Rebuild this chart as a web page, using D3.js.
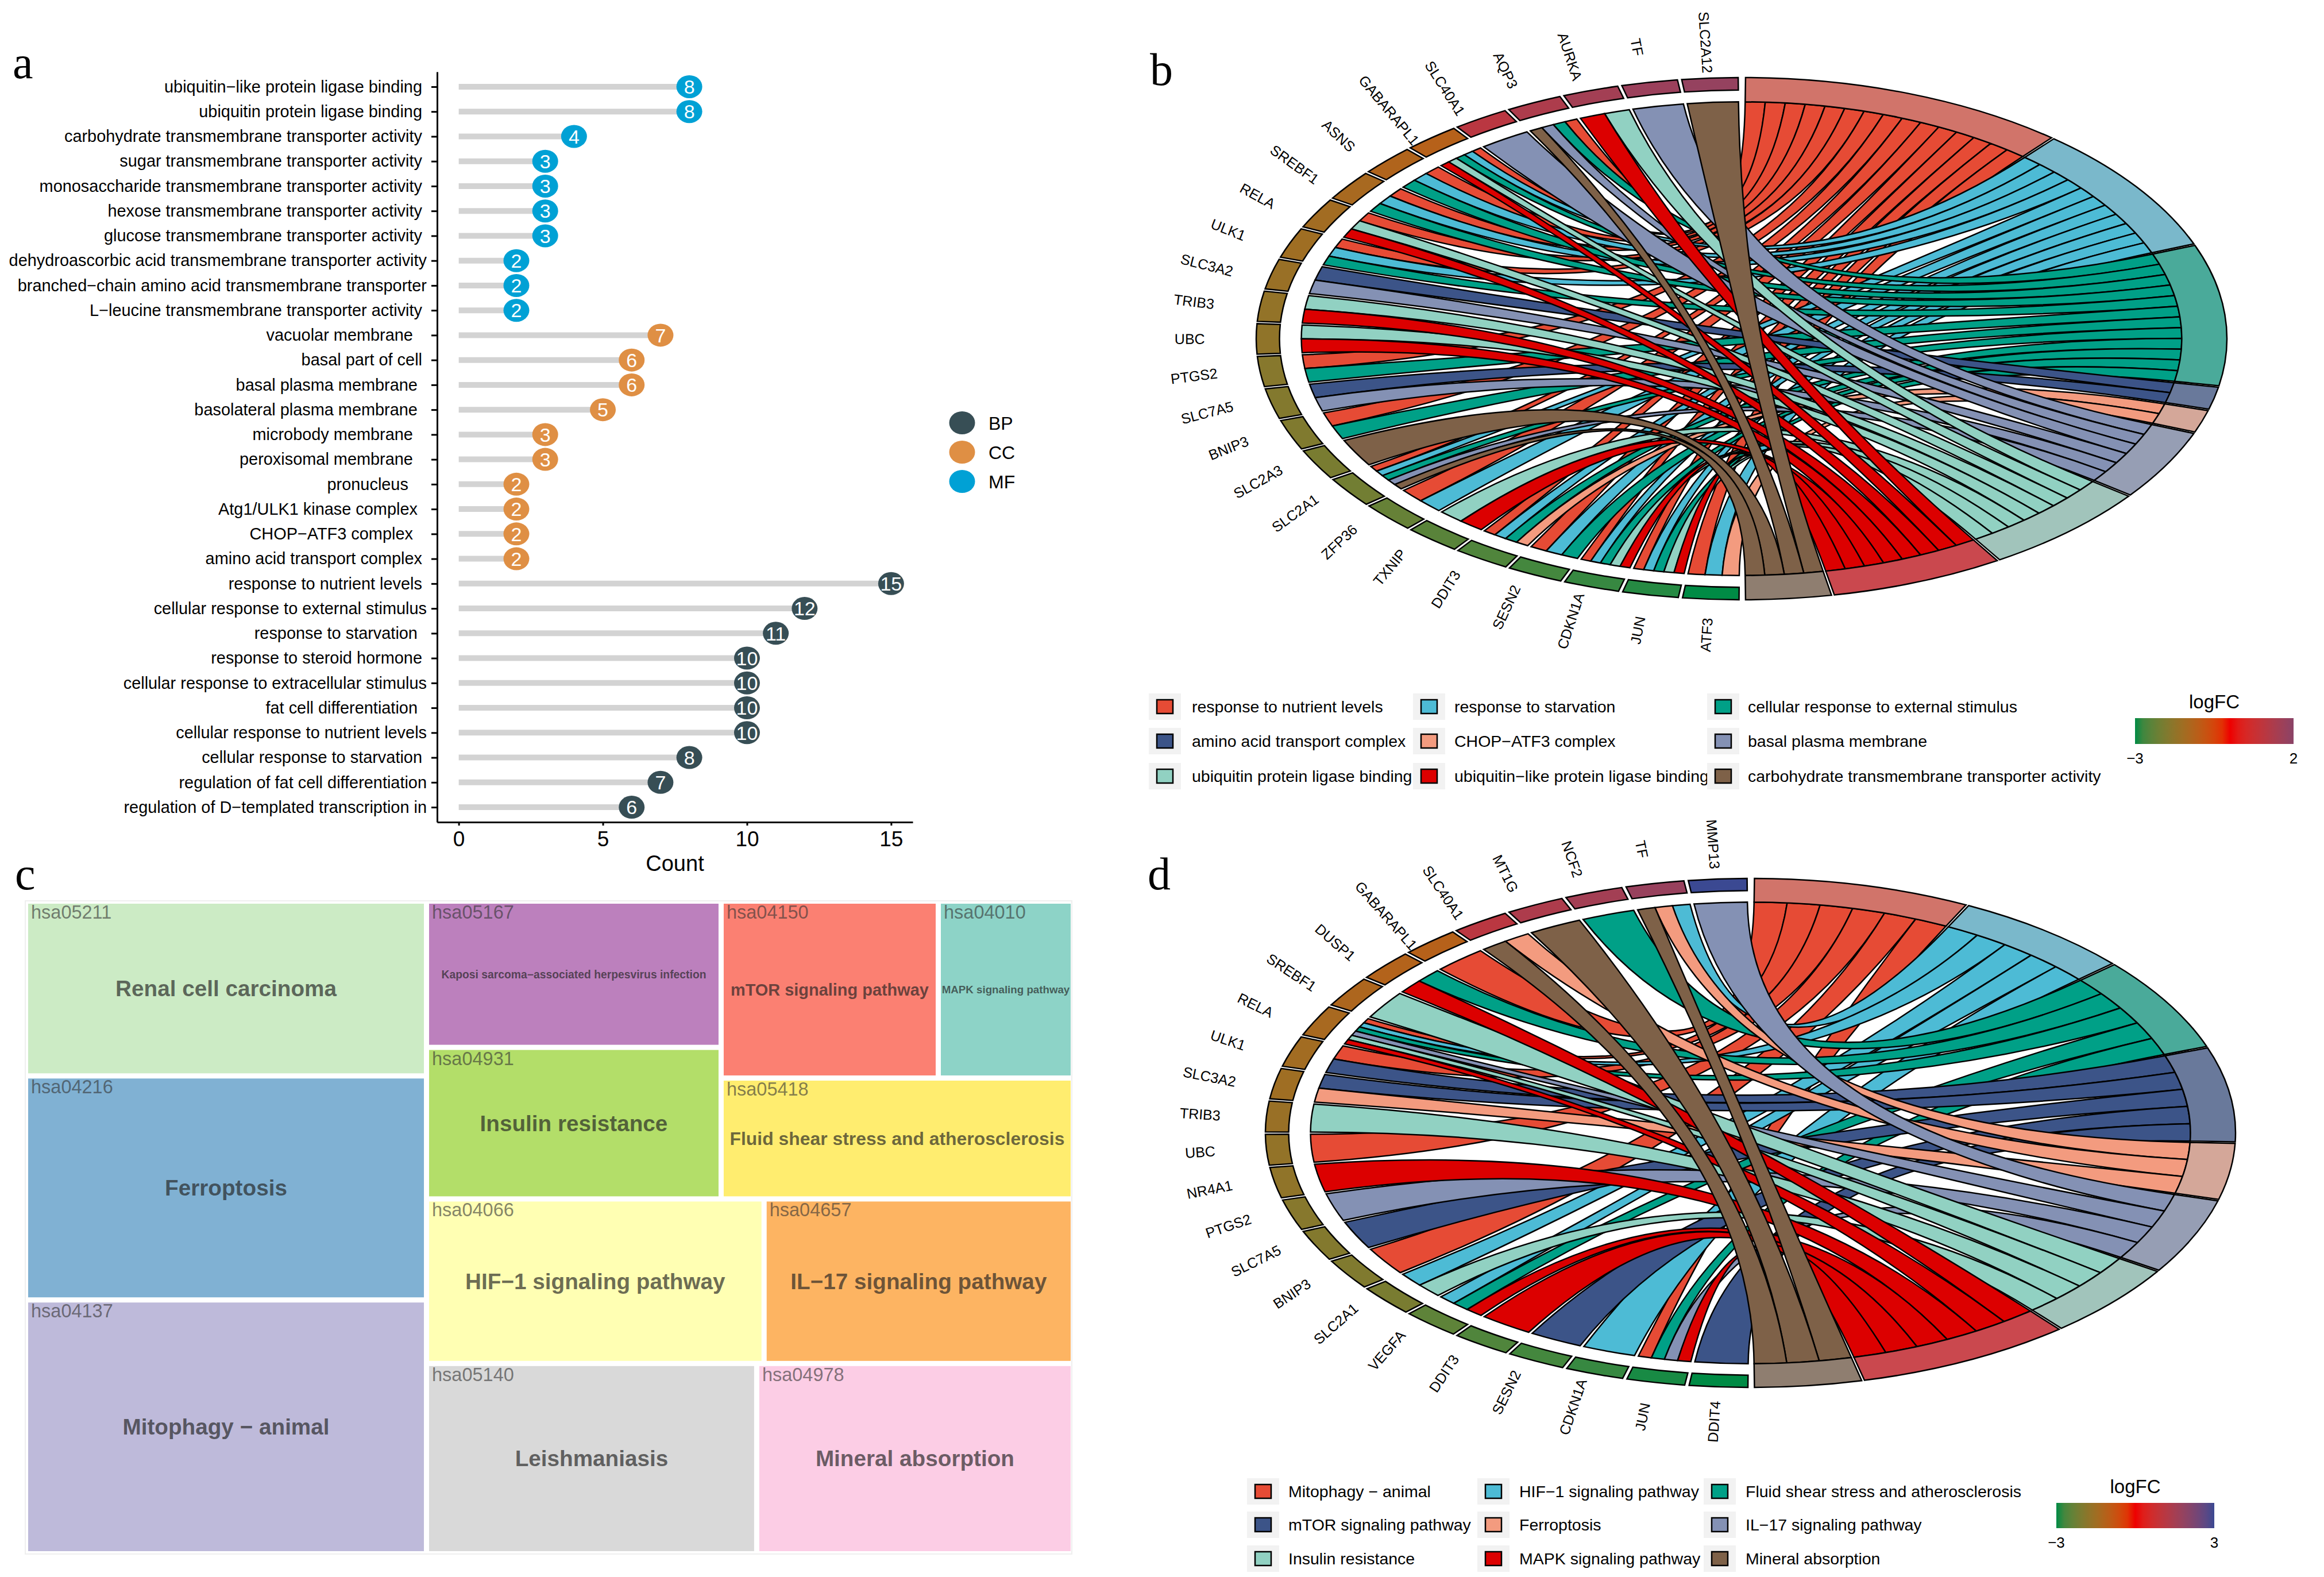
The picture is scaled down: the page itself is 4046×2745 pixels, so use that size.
<!DOCTYPE html>
<html>
<head>
<meta charset="utf-8">
<script src="https://cdn.jsdelivr.net/npm/d3@7"></script>
<style>
html,body{margin:0;padding:0;background:#fff}
svg{display:block}
text{font-family:"Liberation Sans",Arial,sans-serif;fill:#000}
.pl{font-family:"Liberation Serif",serif}
</style>
</head>
<body>
<svg id="chart" width="4046" height="2745" viewBox="0 0 4046 2745"></svg>
<script>
// ---------- Panel a ----------
const termLabels = [
 "ubiquitin−like protein ligase binding ","ubiquitin protein ligase binding ","carbohydrate transmembrane transporter activity ",
 "sugar transmembrane transporter activity ","monosaccharide transmembrane transporter activity ","hexose transmembrane transporter activity ",
 "glucose transmembrane transporter activity ","dehydroascorbic acid transmembrane transporter activity","branched−chain amino acid transmembrane transporter",
 "L−leucine transmembrane transporter activity ","vacuolar membrane   ","basal part of cell ","basal plasma membrane  ","basolateral plasma membrane  ",
 "microbody membrane   ","peroxisomal membrane   ","pronucleus    ","Atg1/ULK1 kinase complex  ","CHOP−ATF3 complex   ","amino acid transport complex ",
 "response to nutrient levels ","cellular response to external stimulus","response to starvation  ","response to steroid hormone ",
 "cellular response to extracellular stimulus","fat cell differentiation  ","cellular response to nutrient levels","cellular response to starvation ",
 "regulation of fat cell differentiation","regulation of D−templated transcription in"];
const termCounts = [8,8,4,3,3,3,3,2,2,2,7,6,6,5,3,3,2,2,2,2,15,12,11,10,10,10,10,8,7,6];
const termGroups = ["MF","MF","MF","MF","MF","MF","MF","MF","MF","MF","CC","CC","CC","CC","CC","CC","CC","CC","CC","CC","BP","BP","BP","BP","BP","BP","BP","BP","BP","BP"];
const groupNames = ["BP","CC","MF"];
const groupColors = ["#374E55","#DF8F44","#00A1D5"];
const countTicks = [0,5,10,15];

// ---------- Panel c ----------
const pathwayIds   = ["hsa05211","hsa04216","hsa04137","hsa05167","hsa04931","hsa04150","hsa04010","hsa05418","hsa04066","hsa04657","hsa05140","hsa04978"];
const pathwayNames = ["Renal cell carcinoma","Ferroptosis","Mitophagy − animal","Kaposi sarcoma−associated herpesvirus infection","Insulin resistance","mTOR signaling pathway","MAPK signaling pathway","Fluid shear stress and atherosclerosis","HIF−1 signaling pathway","IL−17 signaling pathway","Leishmaniasis","Mineral absorption"];
const pathwayValues= [13.5,17.3,19.6,8.3,8.6,7.4,4.6,8.2,10.7,9.8,12.1,11.6];
const pathwayColors= ["#CCEBC5","#80B1D3","#BEBADA","#BC80BD","#B3DE69","#FB8072","#8DD3C7","#FFED6F","#FFFFB3","#FDB462","#D9D9D9","#FCCDE5"];
const labelFitShare = {"Kaposi sarcoma−associated herpesvirus infection":0.915,"MAPK signaling pathway":0.985,"mTOR signaling pathway":0.935,"Fluid shear stress and atherosclerosis":0.965};

// ---------- Chord palettes ----------
const chordColors = ["#E64B35","#4DBBD5","#00A087","#3C5488","#F39B7F","#8491B4","#91D1C2","#DC0000","#7E6148"];
const ringColors  = ["#D1746A","#7AB8CB","#4AAA9A","#69799B","#D4A799","#969EB4","#A1C4BB","#CA484E","#8F7E70"];
const lfcStops    = ["#008B45","#EE0000","#3B4992"];

// ---------- Panel b (genes run clockwise from the bottom) ----------
const bTerms = ["response to nutrient levels","response to starvation","cellular response to external stimulus","amino acid transport complex","CHOP−ATF3 complex","basal plasma membrane","ubiquitin protein ligase binding","ubiquitin−like protein ligase binding","carbohydrate transmembrane transporter activity"];
const bGenes = ["ATF3","JUN","CDKN1A","SESN2","DDIT3","TXNIP","ZFP36","SLC2A1","SLC2A3","BNIP3","SLC7A5","PTGS2","UBC","TRIB3","SLC3A2","ULK1","RELA","SREBF1","ASNS","GABARAPL1","SLC40A1","AQP3","AURKA","TF","SLC2A12"];
const bLogFC = [-3,-2.9,-2.8,-2.7,-2.6,-2.5,-2.35,-2.2,-2.1,-2,-1.95,-1.9,-1.75,-1.7,-1.6,-1.5,-1.45,-1.35,-1.2,-1.1,1.1,1.35,1.55,1.7,1.8];
const bLinks = [[0,1,4],[0,1,2,6,7],[0,1,2,6,7],[0,1,2],[0,1,2,4],[6,7],[0,1],[0,1,2,5,8],[8],[0,2],[3,5],[0,2],[6,7],[6,7],[3,5],[0,1,2],[0,6,7],[0,1,2],[0,1,2],[0,1,2,6,7],[5],[0,2,5,8],[6,7],[5],[8]];

// ---------- Panel d ----------
const dTerms = ["Mitophagy − animal","HIF−1 signaling pathway","Fluid shear stress and atherosclerosis","mTOR signaling pathway","Ferroptosis","IL−17 signaling pathway","Insulin resistance","MAPK signaling pathway","Mineral absorption"];
const dGenes = ["DDIT4","JUN","CDKN1A","SESN2","DDIT3","VEGFA","SLC2A1","BNIP3","SLC7A5","PTGS2","NR4A1","UBC","TRIB3","SLC3A2","ULK1","RELA","SREBF1","DUSP1","GABARAPL1","SLC40A1","MT1G","NCF2","TF","MMP13"];
const dLogFC = [-3,-2.95,-2.8,-2.7,-2.6,-2.45,-2.1,-2,-1.95,-1.9,-1.75,-1.7,-1.6,-1.5,-1.45,-1.35,-1.25,-1.15,-1.1,1.1,1.35,1.55,1.75,3];
const dLinks = [[3],[0,2,5,7],[1],[3],[7],[1,2,7],[1,6],[0],[3],[5],[7],[0],[6],[3,4],[0,3],[0,1,2,5,6,7],[6],[2,7],[0],[4,8],[8],[2],[1,4,8],[5]];

const svg = d3.select("#chart");
svg.append("rect").attr("width",4046).attr("height",2745).attr("fill","#fff");

// panel letters
[["a",22,136],["b",2002,148],["c",26,1548],["d",1998,1548]].forEach(([t,x,y])=>{
  svg.append("text").attr("class","pl").attr("x",x).attr("y",y).attr("font-size",80).text(t);
});

// ---------- a: lollipop ----------
(function(){
  const g = svg.append("g").attr("class","panel-a");
  const x = d3.scaleLinear().domain([-0.75,15.75]).range([761,1589]);
  const y = d3.scalePoint().domain(termLabels).range([125,1431]).padding(0.6);
  const col = d3.scaleOrdinal(groupNames,groupColors);
  const rows = termLabels.map((l,i)=>({l,c:termCounts[i],g:termGroups[i]}));
  g.append("g").selectAll("line").data(rows).join("line")
    .attr("x1",x(0)).attr("x2",d=>x(d.c)).attr("y1",d=>y(d.l)).attr("y2",d=>y(d.l))
    .attr("stroke","#D3D3D3").attr("stroke-width",10);
  const ax = g.append("g").attr("transform","translate(0,1431)")
    .call(d3.axisBottom(x).tickValues(countTicks).tickSize(6).tickPadding(10).tickSizeOuter(0));
  ax.selectAll("text").attr("font-size",37).style("font-family","Liberation Sans");
  ax.selectAll("path,line").attr("stroke-width",3);
  const ay = g.append("g").attr("transform","translate(761,0)")
    .call(d3.axisLeft(y).tickSize(10).tickPadding(8).tickSizeOuter(0));
  ay.selectAll("text").attr("font-size",28.9).style("white-space","pre").style("font-family","Liberation Sans");
  ay.selectAll("path,line").attr("stroke-width",3);
  g.append("g").selectAll("ellipse").data(rows).join("ellipse")
    .attr("cx",d=>x(d.c)).attr("cy",d=>y(d.l)).attr("rx",22.5).attr("ry",20).attr("fill",d=>col(d.g));
  g.append("g").selectAll("text").data(rows).join("text")
    .attr("x",d=>x(d.c)).attr("y",d=>y(d.l)).attr("dy","0.36em").attr("text-anchor","middle")
    .attr("font-size",34).style("fill","#fff").text(d=>d.c);
  g.append("text").attr("x",1175).attr("y",1516).attr("text-anchor","middle").attr("font-size",38).text("Count");
  const ly = d3.scalePoint().domain(groupNames).range([736,838]);
  groupNames.forEach(n=>{
    g.append("ellipse").attr("cx",1675).attr("cy",ly(n)).attr("rx",22.5).attr("ry",20).attr("fill",col(n));
    g.append("text").attr("x",1721).attr("y",ly(n)).attr("dy","0.36em").attr("font-size",32).text(n);
  });
})();

// ---------- c: treemap ----------
(function(){
  const leaf = i=>({i,value:pathwayValues[i]});
  const tree = {dir:"dice",children:[
    {dir:"slice",children:[leaf(0),leaf(1),leaf(2)]},
    {dir:"slice",children:[
      {dir:"dice",children:[
        {dir:"slice",children:[leaf(3),leaf(4)]},
        {dir:"slice",children:[{dir:"dice",children:[leaf(5),leaf(6)]},leaf(7)]}
      ]},
      {dir:"dice",children:[leaf(8),leaf(9)]},
      {dir:"dice",children:[leaf(10),leaf(11)]}
    ]}
  ]};
  const root = d3.hierarchy(tree).sum(d=>d.value||0);
  d3.treemap().size([1815,1127]).paddingInner(9).round(false)
    .tile((node,x0,y0,x1,y1)=>(node.data.dir==="dice"?d3.treemapDice:d3.treemapSlice)(node,x0,y0,x1,y1))(root);
  const g = svg.append("g").attr("transform","translate(49,1573)");
  g.append("rect").attr("x",-5).attr("y",-5).attr("width",1822).attr("height",1137).attr("fill","none").attr("stroke","#efefef").attr("stroke-width",2);
  const cell = g.selectAll("g.cell").data(root.leaves()).join("g").attr("class","cell");
  cell.append("rect").attr("x",d=>d.x0).attr("y",d=>d.y0).attr("width",d=>d.x1-d.x0).attr("height",d=>d.y1-d.y0)
    .attr("fill",d=>pathwayColors[d.data.i]);
  cell.append("text").attr("x",d=>d.x0+5).attr("y",d=>d.y0+26).attr("font-size",32.5)
    .style("fill","#333").attr("fill-opacity",.62).text(d=>pathwayIds[d.data.i]);
  cell.append("text").attr("x",d=>(d.x0+d.x1)/2).attr("y",d=>(d.y0+d.y1)/2).attr("dy","0.35em")
    .attr("text-anchor","middle").attr("font-weight","bold").attr("font-size",38.7)
    .style("fill","#222").attr("fill-opacity",.68).text(d=>pathwayNames[d.data.i])
    .each(function(d){
      const share=labelFitShare[pathwayNames[d.data.i]]||0.95;
      const w=d.x1-d.x0, len=this.getComputedTextLength();
      if(len>w*share) d3.select(this).attr("font-size",38.7*w*share/len);
    });
})();

// ---------- b, d: GOChord ----------
function chord(opt){
  const {cx,cy,rx,ry,terms,genes,lfc,links,domain}=opt;
  const toRad = d=>d*Math.PI/180;
  const r = d3.scaleLinear().domain([0,1]).range([0,rx]);
  const root = svg.append("g").attr("transform",`translate(${cx},${cy}) scale(1,${ry/rx})`);
  const colour = d3.scaleLinear().domain([-3,0,3]).range(lfcStops).interpolate(d3.interpolateLab);

  // how many links every term has, then its span on the right half
  const counts = terms.map((_,t)=>d3.sum(links,l=>l.includes(t)?1:0));
  const total = d3.sum(counts);
  const termAngle = d3.scaleLinear().domain([0,total]).range([toRad(0.3),toRad(179.7)]);
  const geneBand = d3.scaleBand().domain(genes).range([toRad(180.3),toRad(359.6)]).paddingInner(0.07);
  const pad = toRad(0.17);

  const termSpan=[]; let acc=0;
  counts.forEach(c=>{termSpan.push([termAngle(acc)+pad,termAngle(acc+c)-pad]);acc+=c;});

  const ribbons=[];
  terms.forEach((_,t)=>{
    // upper genes take the start of the term's span
    const members = genes.map((g,i)=>i).filter(i=>links[i].includes(t)).reverse();
    const [t0,t1]=termSpan[t];
    const step=(t1-t0)/members.length;
    members.forEach((gi,k)=>{
      const gene=genes[gi];
      const sorted=[...links[gi]].sort((a,b)=>b-a);
      const pos=sorted.indexOf(t);
      const bw=geneBand.bandwidth()/sorted.length;
      const g0=geneBand(gene)+pos*bw;
      ribbons.push({t,
        source:{startAngle:g0,endAngle:g0+bw,radius:r(0.907)},
        target:{startAngle:t0+k*step,endAngle:t0+(k+1)*step,radius:r(0.907)}});
    });
  });
  const ribbon=d3.ribbon();
  root.append("g").selectAll("path").data(ribbons).join("path")
    .attr("d",ribbon).attr("fill",d=>chordColors[d.t]).attr("stroke","#000").attr("stroke-width",2.5)
    .attr("vector-effect","non-scaling-stroke");

  const termArc=d3.arc().innerRadius(r(0.907)).outerRadius(r(1));
  root.append("g").selectAll("path").data(termSpan).join("path")
    .attr("d",d=>termArc({startAngle:d[0],endAngle:d[1]}))
    .attr("fill",(d,i)=>ringColors[i]).attr("stroke","#000").attr("stroke-width",2.5)
    .attr("vector-effect","non-scaling-stroke");

  const geneArc=d3.arc().innerRadius(r(0.952)).outerRadius(r(1));
  root.append("g").selectAll("path").data(genes).join("path")
    .attr("d",g=>geneArc({startAngle:geneBand(g),endAngle:geneBand(g)+geneBand.bandwidth()}))
    .attr("fill",(g,i)=>colour(lfc[i])).attr("stroke","#000").attr("stroke-width",2.5)
    .attr("vector-effect","non-scaling-stroke");

  // gene labels
  svg.append("g").selectAll("text").data(genes).join("text")
    .attr("text-anchor","middle").attr("dy","0.35em").attr("font-size",25)
    .attr("transform",g=>{
      const a=geneBand(g)+geneBand.bandwidth()/2;
      const x=cx+1.137*rx*Math.sin(a), y=cy-1.137*ry*Math.cos(a);
      return `translate(${x},${y}) rotate(${a*180/Math.PI-270})`;
    }).text(g=>g);

  // legend
  const kx=d3.scaleOrdinal([0,1,2],opt.keyX), tx=d3.scaleOrdinal([0,1,2],opt.textX), ky=d3.scaleOrdinal([0,1,2],opt.rowY);
  terms.forEach((t,i)=>{
    const c=i%3, w=Math.floor(i/3);
    svg.append("rect").attr("x",kx(c)-28).attr("y",ky(w)-23).attr("width",56).attr("height",46).attr("fill","#F2F2F2");
    svg.append("rect").attr("x",kx(c)-14).attr("y",ky(w)-12).attr("width",28).attr("height",24)
      .attr("fill",chordColors[i]).attr("stroke","#000").attr("stroke-width",2.5);
    svg.append("text").attr("x",tx(c)).attr("y",ky(w)).attr("dy","0.35em").attr("font-size",28.5).text(t);
  });

  // colour bar
  const id="grad"+opt.name;
  const defs=svg.append("defs").append("linearGradient").attr("id",id);
  const barPos=d3.scaleLinear().domain(domain).range([0,100]);
  d3.range(0,21).map(k=>domain[0]+(domain[1]-domain[0])*k/20).forEach(v=>{
    defs.append("stop").attr("offset",barPos(v)+"%").attr("stop-color",colour(v));
  });
  const [bx0,bx1,by0,by1]=opt.bar;
  svg.append("rect").attr("x",bx0).attr("y",by0).attr("width",bx1-bx0).attr("height",by1-by0).attr("fill",`url(#${id})`);
  svg.append("text").attr("x",(bx0+bx1)/2).attr("y",by0-29).attr("dy","0.35em").attr("text-anchor","middle").attr("font-size",33).text("logFC");
  const ax=d3.scaleLinear().domain(domain).range([bx0,bx1]);
  domain.forEach(v=>{
    svg.append("text").attr("x",ax(v)).attr("y",by1+25).attr("dy","0.35em").attr("text-anchor","middle").attr("font-size",26)
      .text(v<0?"−"+Math.abs(v):v);
  });
}

chord({name:"b",cx:3032,cy:589.5,rx:845,ry:454.5,terms:bTerms,genes:bGenes,lfc:bLogFC,links:bLinks,domain:[-3,2],
  keyX:[2028,2488,3000],textX:[2075,2532,3043],rowY:[1230,1290,1351],bar:[3717,3993,1250,1295]});
chord({name:"d",cx:3047.5,cy:1972,rx:844.5,ry:443,terms:dTerms,genes:dGenes,lfc:dLogFC,links:dLinks,domain:[-3,3],
  keyX:[2199,2600,2994],textX:[2243,2645,3039],rowY:[2596,2654,2713],bar:[3580,3855,2616,2660]});
</script>
</body>
</html>
